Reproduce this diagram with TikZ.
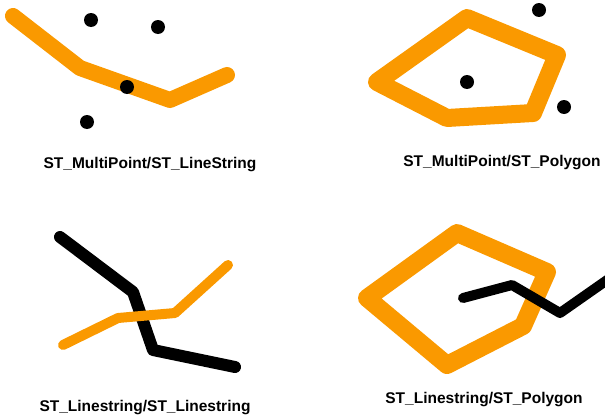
\documentclass[tikz,border=0pt]{standalone}
\usepackage{fontspec}
\setmainfont{Liberation Sans}
\usetikzlibrary{positioning}
\definecolor{geoorange}{RGB}{250,153,0}

\begin{document}
\begin{tikzpicture}[x=1pt, y=-1pt,
    geom/.style={line join=round, line cap=round},
    pt/.style={circle, fill=black, inner sep=0pt, minimum size=14pt},
    caption/.style={font=\bfseries\fontsize{15.5}{18}\selectfont, inner sep=0pt}]
            \useasboundingbox (0,0) rectangle (605,415);

            % ST_MultiPoint/ST_LineString
            \draw[geom, geoorange, line width=16pt] (13,16) -- (80,68) -- (170,100) -- (227,75);
            \node[pt] (p1) at (91,20) {};
            \node[pt] (p2) at (158,27) {};
            \node[pt] (p3) at (127,87) {};
            \node[pt] (p4) at (87,122) {};
            \node[caption] (capA) at (150,165) {ST\_MultiPoint/ST\_LineString};

            % ST_MultiPoint/ST_Polygon
            \draw[geom, geoorange, line width=18pt] (377,82) -- (467,18) -- (557,55) -- (533,113) -- (447,118) -- cycle;
            \node[pt] (q1) at (539,10) {};
            \node[pt] (q2) at (467,82) {};
            \node[pt] (q3) at (564,107) {};
            \node[caption] (capB) at (502,163) {ST\_MultiPoint/ST\_Polygon};

            % ST_Linestring/ST_Linestring
            \draw[geom, line width=12pt] (60,237) -- (133,292) -- (153,350) -- (235,367);
            \draw[geom, geoorange, line width=10pt] (63,345) -- (118,318) -- (175,313) -- (228,265);
            \node[caption] (capC) at (145,408) {ST\_Linestring/ST\_Linestring};

            % ST_Linestring/ST_Polygon
            \draw[geom, geoorange, line width=18pt] (367,298) -- (457,233) -- (547,272) -- (523,326) -- (447,365) -- cycle;
            \draw[geom, line width=10pt] (463,298) -- (512,285) -- (560,313) -- (610,278);
            \node[caption] (capD) at (484,400) {ST\_Linestring/ST\_Polygon};
        \end{tikzpicture}
\end{document}
